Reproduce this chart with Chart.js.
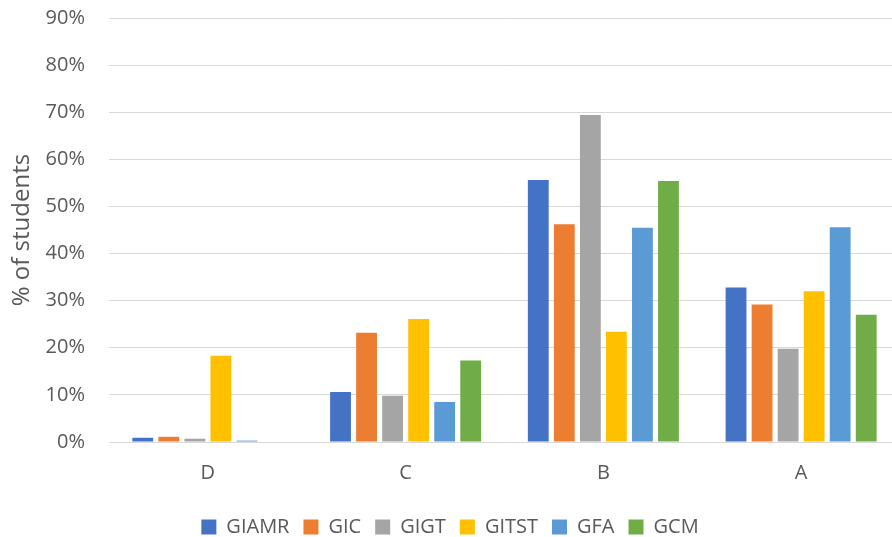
<!DOCTYPE html>
<html>
<head>
<meta charset="utf-8">
<script src="https://cdn.jsdelivr.net/npm/chart.js@4/dist/chart.umd.min.js"></script>
<style>
  html, body { margin: 0; padding: 0; background: #fff; overflow: hidden; }
  #wrap { position: relative; width: 900px; height: 537px; }
</style>
</head>
<body>
<div id="wrap"><canvas id="chart"></canvas></div>
<script>
// Grade bands along the x axis
const grades = ['D', 'C', 'B', 'A'];

// Share of students (%) per grade, one array per group
const giamr = [0.9, 10.6, 55.6, 32.8];
const gic   = [1.1, 23.2, 46.2, 29.2];
const gigt  = [0.7,  9.8, 69.4, 19.8];
const gitst = [18.3, 26.1, 23.4, 32.0];
const gfa   = [0.3,  8.5, 45.5, 45.6];
const gcm   = [0.0, 17.3, 55.4, 27.0];

const seriesNames = ['GIAMR', 'GIC', 'GIGT', 'GITST', 'GFA', 'GCM'];
const seriesValues = [giamr, gic, gigt, gitst, gfa, gcm];
const seriesColors = ['#4472C4', '#ED7D31', '#A5A5A5', '#FFC000', '#5B9BD5', '#70AD47'];

// Y axis ticks: 0% .. 90% in steps of 10
const yTicks = [0, 10, 20, 30, 40, 50, 60, 70, 80, 90];

const textColor = '#595959';
const fontFamily = '"Open Sans", "Segoe UI", sans-serif';

new Chart(document.getElementById('chart'), {
  type: 'bar',
  data: {
    labels: grades,
    datasets: seriesNames.map((name, i) => ({
      label: name,
      data: seriesValues[i],
      backgroundColor: seriesColors[i],
      borderWidth: 0,
      categoryPercentage: 0.79,
      barPercentage: 0.8
    }))
  },
  options: {
    responsive: true,
    maintainAspectRatio: false,
    animation: false,
    layout: { padding: { top: 18, right: 0, bottom: -10, left: 0 } },
    plugins: {
      tooltip: { enabled: false },
      legend: {
        position: 'bottom',
        labels: {
          color: textColor,
          font: { family: fontFamily, size: 20 },
          boxWidth: 15,
          boxHeight: 15,
          padding: 14
        }
      }
    },
    scales: {
      x: {
        grid: { display: false, drawTicks: false },
        border: { display: false },
        ticks: {
          color: textColor,
          font: { family: fontFamily, size: 20 },
          padding: 19
        },
        afterFit: (scale) => {
          scale.height = 61;
          scale.paddingLeft = 0;
          scale.paddingRight = 0;
        }
      },
      y: {
        min: 0,
        max: 90,
        afterBuildTicks: (scale) => { scale.ticks = yTicks.map(v => ({ value: v })); },
        grid: { color: '#D9D9D9', lineWidth: 1, drawTicks: false },
        border: { display: false },
        ticks: {
          color: textColor,
          font: { family: fontFamily, size: 20 },
          padding: 24,
          callback: (v) => v + '%'
        },
        title: {
          display: true,
          text: '% of students',
          color: textColor,
          font: { family: fontFamily, size: 24 },
          padding: { top: 8, bottom: 0 }
        },
        afterFit: (scale) => {
          scale.width = 109;
          scale.paddingTop = 0;
          scale.paddingBottom = 0;
        }
      }
    }
  }
});
</script>
</body>
</html>
